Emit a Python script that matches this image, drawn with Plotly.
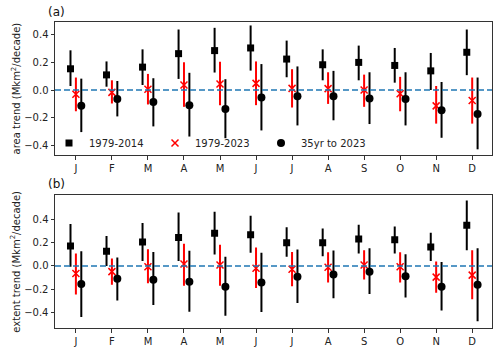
import plotly.graph_objects as go
from plotly.subplots import make_subplots

months = [1, 2, 3, 4, 5, 6, 7, 8, 9, 10, 11, 12]
month_labels = ["J", "F", "M", "A", "M", "J", "J", "A", "S", "O", "N", "D"]

# Panel (a): area trend
area_7914 = [0.153, 0.109, 0.165, 0.262, 0.284, 0.303, 0.223, 0.182, 0.199, 0.177, 0.138, 0.272]
area_7914_hi = [0.286, 0.206, 0.293, 0.436, 0.448, 0.465, 0.356, 0.293, 0.320, 0.303, 0.267, 0.436]
area_7914_lo = [0.029, 0.024, 0.036, 0.080, 0.126, 0.140, 0.092, 0.070, 0.070, 0.053, 0.000, 0.107]
area_7923 = [-0.030, -0.017, 0.005, 0.036, 0.044, 0.048, 0.012, 0.010, 0.000, -0.027, -0.114, -0.075]
area_7923_hi = [0.090, 0.070, 0.116, 0.200, 0.204, 0.206, 0.150, 0.128, 0.111, 0.095, 0.029, 0.090]
area_7923_lo = [-0.153, -0.097, -0.104, -0.121, -0.109, -0.109, -0.126, -0.100, -0.121, -0.153, -0.242, -0.242]
area_35 = [-0.114, -0.065, -0.087, -0.109, -0.136, -0.053, -0.044, -0.044, -0.061, -0.065, -0.145, -0.172]
area_35_hi = [0.082, 0.065, 0.085, 0.124, 0.078, 0.187, 0.170, 0.138, 0.128, 0.128, 0.058, 0.090]
area_35_lo = [-0.303, -0.190, -0.262, -0.335, -0.347, -0.291, -0.255, -0.218, -0.245, -0.255, -0.344, -0.427]

# Panel (b): extent trend
ext_7914 = [0.171, 0.126, 0.204, 0.243, 0.280, 0.266, 0.199, 0.199, 0.229, 0.224, 0.162, 0.347]
ext_7914_hi = [0.358, 0.255, 0.366, 0.456, 0.462, 0.428, 0.330, 0.319, 0.352, 0.336, 0.283, 0.559]
ext_7914_lo = [-0.006, 0.000, 0.042, 0.042, 0.098, 0.112, 0.078, 0.084, 0.106, 0.106, 0.042, 0.134]
ext_7923 = [-0.064, -0.048, -0.006, 0.017, 0.008, -0.020, -0.028, -0.011, 0.008, -0.006, -0.095, -0.078]
ext_7923_hi = [0.106, 0.064, 0.143, 0.190, 0.182, 0.157, 0.120, 0.117, 0.134, 0.117, 0.039, 0.134]
ext_7923_lo = [-0.243, -0.159, -0.148, -0.168, -0.168, -0.187, -0.173, -0.140, -0.115, -0.140, -0.229, -0.283]
ext_35 = [-0.154, -0.109, -0.117, -0.134, -0.176, -0.140, -0.092, -0.073, -0.050, -0.087, -0.176, -0.159]
ext_35_hi = [0.126, 0.073, 0.120, 0.129, 0.078, 0.112, 0.140, 0.131, 0.151, 0.100, 0.034, 0.151]
ext_35_lo = [-0.434, -0.294, -0.333, -0.389, -0.425, -0.392, -0.316, -0.274, -0.238, -0.269, -0.380, -0.470]

offset = 0.15
FONT = "DejaVu Sans"

fig = make_subplots(rows=2, cols=1, vertical_spacing=0.13)


def add_series(row, vals, hi, lo, dx, name, symbol, color, size, showlegend):
    xs = [m + dx for m in months]
    plus = [h - v for h, v in zip(hi, vals)]
    minus = [v - l for v, l in zip(vals, lo)]
    marker = dict(symbol=symbol, size=size, color=color)
    if symbol == "x-thin":
        marker["line"] = dict(color=color, width=1.5)
    fig.add_trace(go.Scatter(
        x=xs, y=vals, mode="markers", name=name, showlegend=showlegend,
        marker=marker,
        error_y=dict(type="data", array=plus, arrayminus=minus, color=color,
                     thickness=2, width=0, symmetric=False),
    ), row=row, col=1)


add_series(1, area_7914, area_7914_hi, area_7914_lo, -offset, "1979-2014", "square", "black", 7, True)
add_series(1, area_7923, area_7923_hi, area_7923_lo, 0, "1979-2023", "x-thin", "red", 7, True)
add_series(1, area_35, area_35_hi, area_35_lo, offset, "35yr to 2023", "circle", "black", 8, True)
add_series(2, ext_7914, ext_7914_hi, ext_7914_lo, -offset, "1979-2014", "square", "black", 7, False)
add_series(2, ext_7923, ext_7923_hi, ext_7923_lo, 0, "1979-2023", "x-thin", "red", 7, False)
add_series(2, ext_35, ext_35_hi, ext_35_lo, offset, "35yr to 2023", "circle", "black", 8, False)

for r in (1, 2):
    fig.add_hline(y=0, line=dict(color="#1f77b4", width=1.5, dash="6px,3px"), row=r, col=1)

axis_common = dict(showgrid=False, zeroline=False, showline=True, linecolor="#333333",
                   linewidth=1, mirror=True, ticks="outside", ticklen=3.5, tickcolor="#333333",
                   tickfont=dict(family=FONT, size=10, color="#222222"))

for r in (1, 2):
    fig.update_xaxes(range=[0.42, 12.55], tickmode="array", tickvals=months,
                     ticktext=month_labels, row=r, col=1, **axis_common)

fig.update_yaxes(range=[-0.468, 0.49], tickvals=[-0.4, -0.2, 0.0, 0.2, 0.4],
                 tickformat=".1f", row=1, col=1, **axis_common)
fig.update_yaxes(range=[-0.531, 0.605], tickvals=[-0.4, -0.2, 0.0, 0.2, 0.4],
                 tickformat=".1f", row=2, col=1, **axis_common)

# domains (pixel-matched)
top_dom = [(330 - 155) / 310, (330 - 22) / 310]
bot_dom = [(330 - 328.3) / 310, (330 - 195) / 310]
fig.update_layout(yaxis=dict(domain=top_dom), yaxis2=dict(domain=bot_dom))

# y-axis titles as rotated annotations
title_font = dict(family=FONT, size=10, color="#222222")
fig.add_annotation(text="area trend (Mkm<sup>2</sup>/decade)", textangle=-90,
                   x=(15 - 55) / 437, y=sum(top_dom) / 2, xref="paper", yref="paper",
                   showarrow=False, xanchor="center", yanchor="middle", font=title_font)
fig.add_annotation(text="extent trend (Mkm<sup>2</sup>/decade)", textangle=-90,
                   x=(15 - 55) / 437, y=sum(bot_dom) / 2, xref="paper", yref="paper",
                   showarrow=False, xanchor="center", yanchor="middle", font=title_font)

fig.add_annotation(text="(a)", x=-0.02, y=(330 - 12) / 310, xref="paper", yref="paper",
                   showarrow=False, xanchor="left", yanchor="middle",
                   font=dict(family=FONT, size=12, color="#111111"))
fig.add_annotation(text="(b)", x=-0.02, y=(330 - 184) / 310, xref="paper", yref="paper",
                   showarrow=False, xanchor="left", yanchor="middle",
                   font=dict(family=FONT, size=12, color="#111111"))

fig.update_layout(
    width=500, height=350,
    margin=dict(l=55, r=8, t=20, b=20, autoexpand=False),
    paper_bgcolor="white", plot_bgcolor="white",
    font=dict(family=FONT, size=10, color="#222222"),
    legend=dict(orientation="h", xref="container", yref="paper", x=49 / 500,
                y=(330 - 143) / 310, xanchor="left", yanchor="middle",
                bgcolor="rgba(0,0,0,0)", font=dict(family=FONT, size=10, color="#222222"),
                entrywidth=61, entrywidthmode="pixels", itemwidth=30, tracegroupgap=0),
)

fig.write_html("out.html", config={"displayModeBar": False},
               post_script="document.body.style.margin='0';document.body.style.overflow='hidden';")
